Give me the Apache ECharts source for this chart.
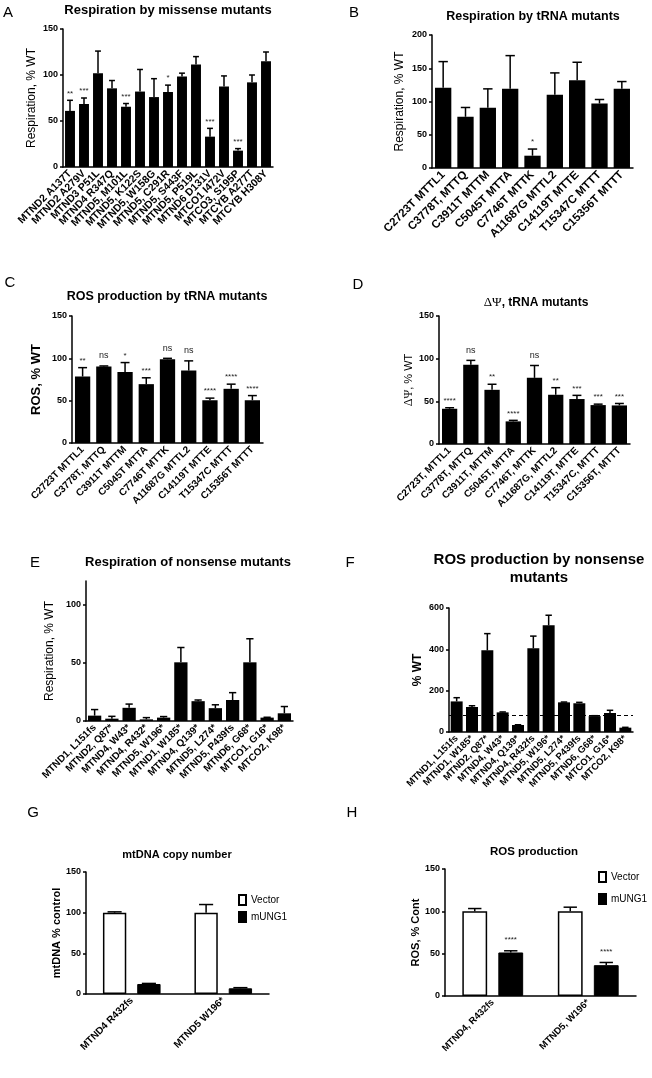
<!DOCTYPE html>
<html><head><meta charset="utf-8">
<script src="https://cdn.jsdelivr.net/npm/echarts@6/dist/echarts.min.js"></script>
<style>html,body{margin:0;padding:0;background:#fff}#c{width:652px;height:1078px}</style>
</head><body><div id="c"></div>
<script>
// ---- Panel A: Respiration by missense mutants ----
const catsA = ['MTND2 A137T','MTND2 A279V','MTND3 P51L','MTND4 R347Q','MTND5, M101L','MTND5, K122S','MTND5, W158G','MTND5, C291R','MTND5, S443F','MTND5, P519L','MTND6 D131V','MTCO1 I472V','MTCO3, S195P','MTCYB A277T','MTCYB H308Y'];
const valsA = [61, 68.5, 102, 85.5, 65.5, 82, 76, 81.5, 98.5, 111.5, 33, 87.5, 17.8, 92, 115];
const errsA = [72.5, 75, 126, 94, 69, 106, 96, 89, 102, 120, 42, 99, 20, 100, 125];
const sigA = ['**','***','','','***','','','*','','','***','','***','',''];

// ---- Panel B: Respiration by tRNA mutants ----
const catsB = ['C2723T MTTL1','C3778T, MTTQ','C3911T MTTM','C5045T MTTA','C7746T MTTK','A11687G MTTL2','C14119T MTTE','T15347C MTTT','C15356T MTTT'];
const valsB = [120.5, 77, 90.5, 119, 18.5, 110, 132, 97, 119];
const errsB = [160, 91, 119, 169, 28.5, 143, 159, 103, 130];
const sigB = ['','','','','*','','','',''];

// ---- Panel C: ROS production by tRNA mutants ----
const catsC = ['C2723T MTTL1','C3778T, MTTQ','C3911T MTTM','C5045T MTTA','C7746T MTTK','A11687G MTTL2','C14119T MTTE','T15347C MTTT','C15356T MTTT'];
const valsC = [78.5, 90.5, 84, 69.5, 98.8, 85.5, 50.5, 64, 50.5];
const errsC = [89, 91, 95, 77, 100, 97, 53, 69.5, 56];
const sigC = ['**','ns','*','***','ns','ns','****','****','****'];

// ---- Panel D: ΔΨ, tRNA mutants ----
const catsD = ['C2723T, MTTL1','C3778T, MTTQ','C3911T, MTTM','C5045T, MTTA','C7746T, MTTK','A11687G, MTTL2','C14119T, MTTE','T15347C, MTTT','C15356T, MTTT'];
const valsD = [41.3, 93, 63.5, 26.5, 77.5, 57.7, 52.7, 45.6, 45.2];
const errsD = [42.5, 98, 70, 27.7, 92, 66, 57, 46.7, 47.5];
const sigD = ['****','ns','**','****','ns','**','***','***','***'];

// ---- Panel E: Respiration of nonsense mutants ----
const catsE = ['MTND1, L151fs','MTND2, Q87*','MTND4, W43*','MTND4, R432*','MTND5, W196*','MTND1, W185*','MTND4, Q139*','MTND5, L274*','MTND5, P439fs','MTND6, G68*','MTCO1, G16*','MTCO2, K98*'];
const valsE = [4.6, 2, 11.3, 1.4, 2.9, 50.3, 17, 11, 18, 50.3, 2.9, 6.6];
const errsE = [9.8, 4, 14.5, 2.9, 3.8, 63, 18, 13.9, 24.3, 70.5, 3.2, 12.4];
const ticksE = [0, 50, 100];

// ---- Panel F: ROS production by nonsense mutants ----
const catsF = ['MTND1, L151fs','MTND1, W185*','MTND2, Q87*','MTND4, W43*','MTND4, Q139*','MTND4, R432fs','MTND5, W196*','MTND5, L274*','MTND5, P439fs','MTND6, G68*','MTCO1, G16*','MTCO2, K98*'];
const valsF = [148, 121, 395, 95, 34, 405, 516, 143.5, 139, 77, 92, 21];
const errsF = [166, 127, 476, 97, 35, 464, 565, 145, 143.5, 79, 105, 22.6];
const refLineF = 80;

// ---- Panel G: mtDNA copy number ----
const catsG = ['MTND4 R432fs','MTND5 W196*'];
const vectorG = [100, 100];
const vectorErrG = [101, 110];
const mungG = [12.3, 7];
const mungErrG = [13, 7.8];

// ---- Panel H: ROS production ----
const catsH = ['MTND4, R432fs','MTND5, W196*'];
const vectorH = [100, 100];
const vectorErrH = [103.3, 104.9];
const mungH = [51.4, 36.4];
const mungErrH = [53.4, 39.6];
const sigMungH = ['****','****'];

const FF = '"Liberation Sans", Arial, Helvetica, sans-serif';
const SERIF = '"Liberation Serif", "DejaVu Serif", serif';

const grids = [], xAxes = [], yAxes = [], series = [], graphics = [];

function errSeries(gi, vals, errs, sig, opt) {
  opt = opt || {};
  const off = opt.offset || 0, capF = opt.cap || 0.21, sgap = opt.sigGap || 0;
  return {
    type: 'custom', xAxisIndex: gi, yAxisIndex: gi, z: 5, silent: true,
    data: vals.map((v, j) => [j, v, errs[j]]),
    renderItem: function (params, api) {
      const c = api.value(0), v = api.value(1), e = api.value(2);
      const bw = api.size([1, 0])[0];
      const p0 = api.coord([c, v]), p1 = api.coord([c, e]);
      const x = p0[0] + off * bw, hw = capF * bw;
      const children = [
        {type: 'line', shape: {x1: x, y1: p0[1], x2: x, y2: p1[1]}, style: {stroke: '#000', lineWidth: 1.5}},
        {type: 'line', shape: {x1: x - hw, y1: p1[1], x2: x + hw, y2: p1[1]}, style: {stroke: '#000', lineWidth: 1.5}}
      ];
      const s = sig ? sig[params.dataIndex] : '';
      if (s) {
        const isNs = s === 'ns';
        children.push({type: 'text', style: {
          text: s, x: x, y: p1[1] - (isNs ? 10 : 7) - sgap,
          align: 'center', verticalAlign: 'middle', textAlign: 'center', textVerticalAlign: 'middle',
          font: (isNs ? '9px ' : '8px ') + FF, fill: '#222'
        }});
      }
      return {type: 'group', children: children};
    }
  };
}

function addAxes(gi, p) {
  grids.push(Object.assign({containLabel: false}, p.grid));
  xAxes.push({
    type: 'category', gridIndex: gi, data: p.cats,
    axisLine: {show: true, lineStyle: {color: '#000', width: 1.5}},
    axisTick: {show: false},
    axisLabel: {interval: 0, rotate: 45, margin: 5, color: '#000', fontWeight: 'bold', fontSize: p.xFont, fontFamily: FF}
  });
  const y = {
    type: 'value', gridIndex: gi, min: 0, max: p.yMax, interval: p.yInt,
    axisLine: {show: true, lineStyle: {color: '#000', width: 1.5}},
    axisTick: {show: true, length: 3, lineStyle: {color: '#000', width: 1.5}},
    splitLine: {show: false},
    axisLabel: {margin: 5, color: '#000', fontWeight: 'bold', fontSize: 9, fontFamily: FF},
    name: p.yName, nameLocation: 'middle', nameGap: p.nameGap,
    nameTextStyle: Object.assign({color: '#000', fontFamily: FF}, p.nameStyle)
  };
  if (p.customTicks) {
    y.axisLabel.customValues = p.customTicks;
    y.axisTick.customValues = p.customTicks;
  }
  yAxes.push(y);
}

const simplePanels = [
  {grid: {left: 63, top: 29, width: 210, height: 138}, cats: catsA, vals: valsA, errs: errsA, sig: sigA, yMax: 150, yInt: 50,
   yName: 'Respiration, % WT', nameGap: 25, nameStyle: {fontSize: 12}, xFont: 10.5, gap: '29%'},
  {grid: {left: 432, top: 35, width: 201, height: 133}, cats: catsB, vals: valsB, errs: errsB, sig: sigB, yMax: 200, yInt: 50,
   yName: 'Respiration, % WT', nameGap: 26, nameStyle: {fontSize: 12}, xFont: 11.5, gap: '27%'},
  {grid: {left: 72, top: 316, width: 191, height: 127}, cats: catsC, vals: valsC, errs: errsC, sig: sigC, yMax: 150, yInt: 50,
   yName: 'ROS, % WT', nameGap: 29, nameStyle: {fontSize: 13, fontWeight: 'bold'}, xFont: 10, gap: '28%'},
  {grid: {left: 439, top: 316, width: 191, height: 128}, cats: catsD, vals: valsD, errs: errsD, sig: sigD, yMax: 150, yInt: 50,
   yName: '{g|ΔΨ}, % WT', nameGap: 21, nameStyle: {fontSize: 11, rich: {g: {fontFamily: SERIF, fontSize: 12, color: '#000'}}}, xFont: 10, gap: '28%'},
  {grid: {left: 86, top: 581, width: 207, height: 140}, cats: catsE, vals: valsE, errs: errsE, sig: null, yMax: 120, yInt: 50,
   customTicks: ticksE, yName: 'Respiration, % WT', nameGap: 30, nameStyle: {fontSize: 12}, xFont: 10, gap: '23%'},
  {grid: {left: 449, top: 608, width: 184, height: 124}, cats: catsF, vals: valsF, errs: errsF, sig: null, yMax: 600, yInt: 200,
   yName: '% WT', nameGap: 25, nameStyle: {fontSize: 12, fontWeight: 'bold'}, xFont: 9.5, gap: '22%', refLine: refLineF}
];

simplePanels.forEach((p, gi) => {
  addAxes(gi, p);
  const bar = {
    type: 'bar', xAxisIndex: gi, yAxisIndex: gi, data: p.vals, barCategoryGap: p.gap,
    itemStyle: {color: '#000'}, silent: true, z: 2
  };
  if (p.refLine != null) {
    bar.markLine = {silent: true, symbol: 'none', label: {show: false},
      lineStyle: {type: [4, 3], color: '#000', width: 1}, data: [{yAxis: p.refLine}]};
  }
  series.push(bar);
  series.push(errSeries(gi, p.vals, p.errs, p.sig, {cap: 0.21}));
});

// Grouped panels G and H
const groupPanels = [
  {grid: {left: 86, top: 872, width: 183, height: 122}, cats: catsG, yMax: 150, yInt: 50, yName: 'mtDNA % control', nameGap: 18,
   nameStyle: {fontSize: 11, fontWeight: 'bold'}, xFont: 10, bw: 0.255, bg: 0.47, cap: 0.077,
   vec: vectorG, vecErr: vectorErrG, mu: mungG, muErr: mungErrG, muSig: null, sigGap: 0},
  {grid: {left: 445, top: 869, width: 191, height: 127}, cats: catsH, yMax: 150, yInt: 50, yName: 'ROS, % Cont', nameGap: 24,
   nameStyle: {fontSize: 11, fontWeight: 'bold'}, xFont: 9.5, bw: 0.26, bg: 0.45, cap: 0.07,
   vec: vectorH, vecErr: vectorErrH, mu: mungH, muErr: mungErrH, muSig: sigMungH, sigGap: 4}
];
groupPanels.forEach((p, k) => {
  const gi = simplePanels.length + k;
  addAxes(gi, p);
  const pct = (p.bw * 100) + '%';
  series.push({type: 'bar', name: 'Vector', xAxisIndex: gi, yAxisIndex: gi, data: p.vec, barWidth: pct, barGap: (p.bg * 100) + '%',
    itemStyle: {color: '#fff', borderColor: '#000', borderWidth: 1.5}, silent: true});
  series.push({type: 'bar', name: 'mUNG1', xAxisIndex: gi, yAxisIndex: gi, data: p.mu, barWidth: pct, barGap: (p.bg * 100) + '%',
    itemStyle: {color: '#000', borderColor: '#000', borderWidth: 1}, silent: true});
  const total = 2 * p.bw + p.bg * p.bw;
  const c1 = -total / 2 + p.bw / 2;
  series.push(errSeries(gi, p.vec, p.vecErr, null, {offset: c1, cap: p.cap}));
  series.push(errSeries(gi, p.mu, p.muErr, p.muSig, {offset: -c1, cap: p.cap, sigGap: p.sigGap}));
});

// Titles and panel letters
function txt(t, x, y, font, rich) {
  const st = {
    text: t, font: font, fill: '#000',
    align: 'center', verticalAlign: 'middle', textAlign: 'center', textVerticalAlign: 'middle'
  };
  if (rich) st.rich = rich;
  graphics.push({type: 'text', x: x, y: y, silent: true, style: st});
}
txt('Respiration by missense mutants', 168, 10, 'bold 13px ' + FF);
txt('Respiration by tRNA mutants', 533, 17, 'bold 12.5px ' + FF);
txt('ROS production by tRNA mutants', 167, 297, 'bold 12.5px ' + FF);
txt('{g|ΔΨ}, tRNA mutants', 536, 303, 'bold 12px ' + FF, {g: {fontFamily: SERIF, fontSize: 13, fontWeight: 'normal', fill: '#000'}});
txt('Respiration of nonsense mutants', 188, 562, 'bold 13px ' + FF);
txt('ROS production by nonsense', 539, 560, 'bold 15px ' + FF);
txt('mutants', 539, 578, 'bold 15px ' + FF);
txt('mtDNA copy number', 177, 855, 'bold 11px ' + FF);
txt('ROS production', 534, 852, 'bold 11.5px ' + FF);

const LF = '15px ' + FF;
txt('A', 8, 13, LF);
txt('B', 354, 13, LF);
txt('C', 10, 283, LF);
txt('D', 358, 285, LF);
txt('E', 35, 563, LF);
txt('F', 350, 563, LF);
txt('G', 33, 813, LF);
txt('H', 352, 813, LF);

const chart = echarts.init(document.getElementById('c'), null, {renderer: 'canvas'});
chart.setOption({
  backgroundColor: '#fff',
  animation: false,
  grid: grids, xAxis: xAxes, yAxis: yAxes, series: series,
  graphic: graphics,
  legend: [
    {data: ['Vector', 'mUNG1'], orient: 'vertical', left: 238, top: 894, padding: 0, itemWidth: 7, itemHeight: 10, itemGap: 5,
     icon: 'rect', selectedMode: false, textStyle: {fontSize: 10, fontFamily: FF, color: '#000'}},
    {data: ['Vector', 'mUNG1'], orient: 'vertical', left: 598, top: 871, padding: 0, itemWidth: 7, itemHeight: 10, itemGap: 10,
     icon: 'rect', selectedMode: false, textStyle: {fontSize: 10, fontFamily: FF, color: '#000'}}
  ]
});
</script>
</body></html>
